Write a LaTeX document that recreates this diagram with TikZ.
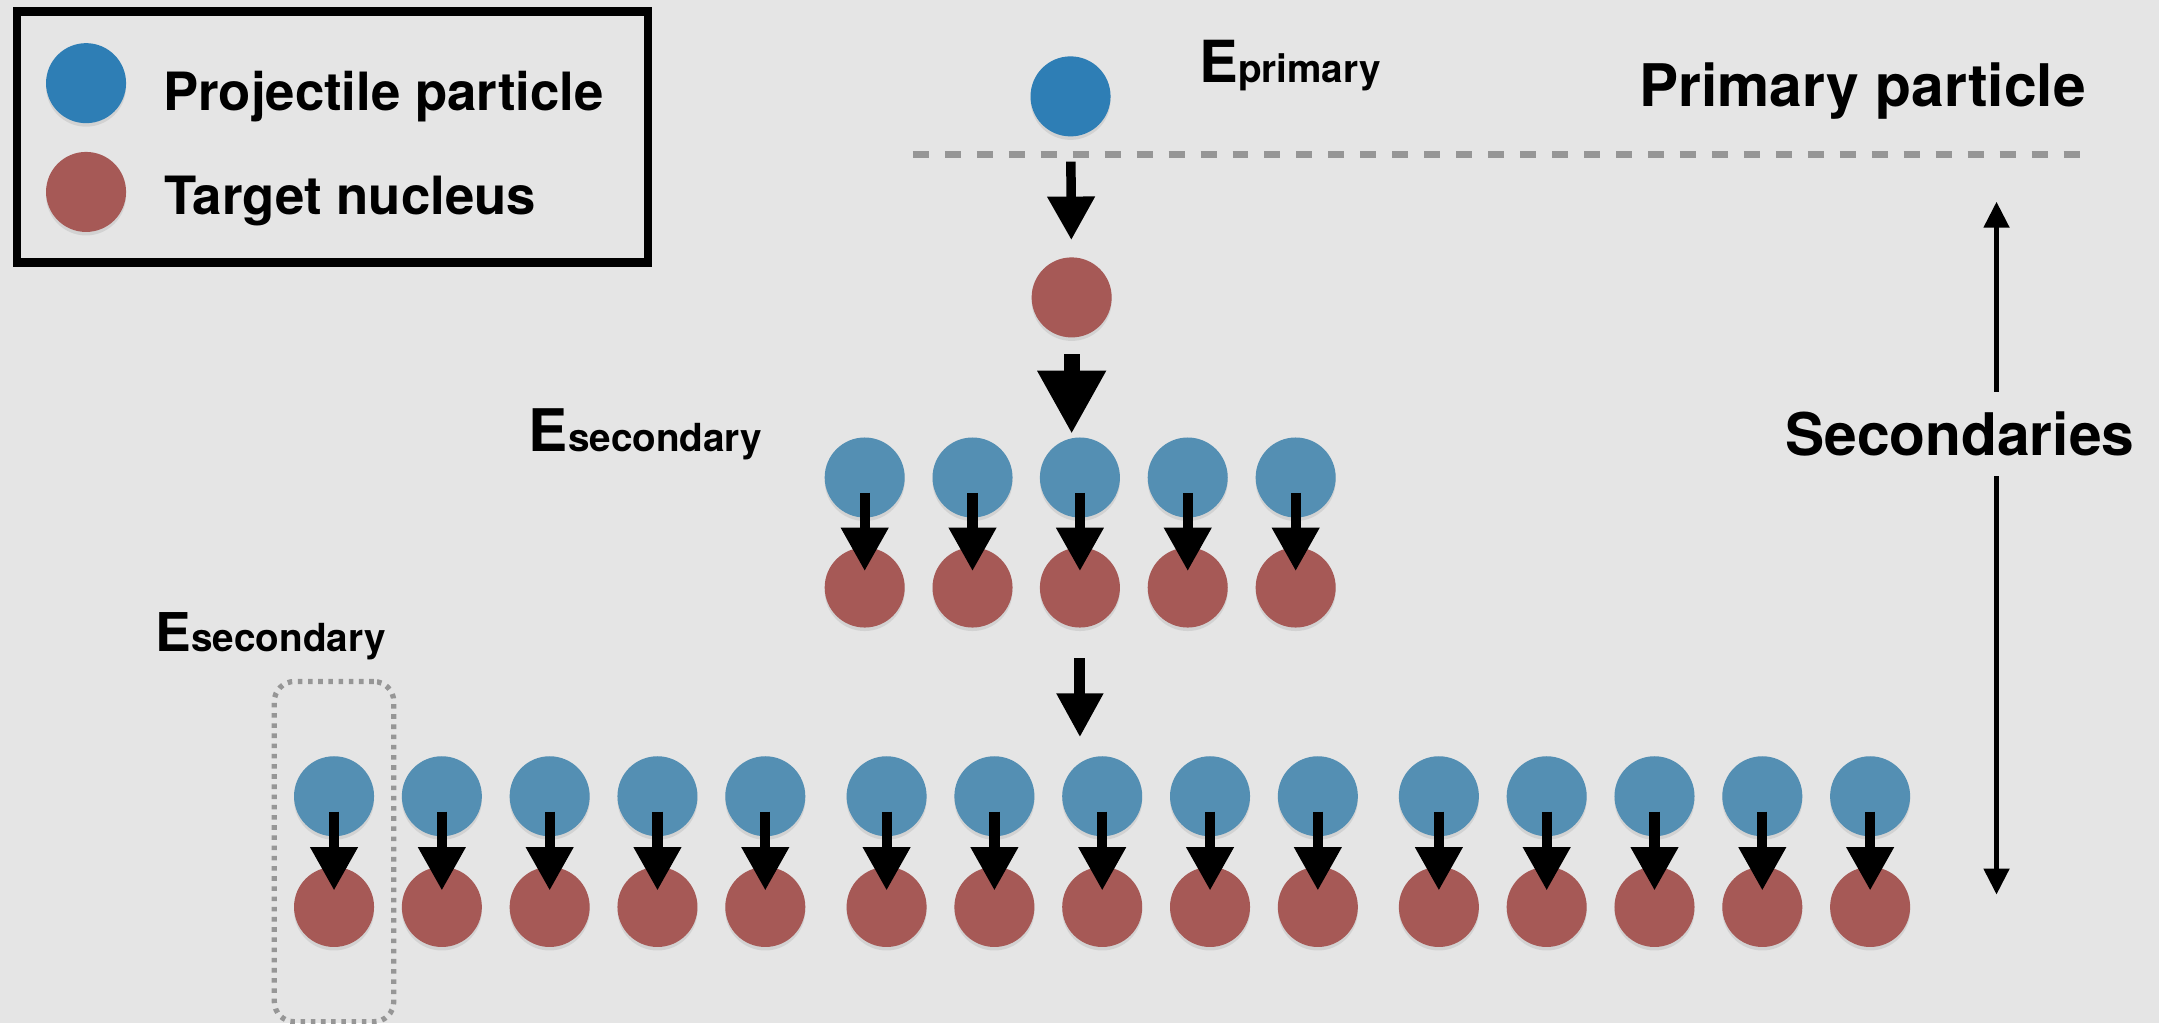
\documentclass[tikz,border=0pt]{standalone}
\usepackage{fontspec}
\setmainfont{TeX Gyre Heros}
\usetikzlibrary{arrows.meta, fit, shadows}

\definecolor{bggray}{RGB}{229,229,229}
\definecolor{projblue}{RGB}{84,143,179}
\definecolor{primblue}{RGB}{46,126,181}
\definecolor{targred}{RGB}{166,89,86}
\definecolor{guidegray}{RGB}{150,150,150}

% E with its subscript set on the same baseline
\newcommand{\Energy}[2]{{\fontsize{#1}{#1}\selectfont E}{\fontsize{11}{13}\selectfont #2}}

\begin{document}
\begin{tikzpicture}[
    x=0.01377cm, y=-0.01377cm,
    particle/.style={circle, minimum size=0.8cm, inner sep=0pt,
        drop shadow={shadow xshift=0pt, shadow yshift=-0.035cm, opacity=0.18}},
    proj/.style={particle, fill=projblue},
    targ/.style={particle, fill=targred},
    legendtxt/.style={anchor=base west, inner sep=0pt, font=\fontsize{15}{18}\selectfont\bfseries},
    heading/.style={anchor=base west, inner sep=0pt, font=\fontsize{16.7}{20}\selectfont\bfseries},
    energy/.style={anchor=base west, inner sep=0pt, font=\bfseries},
    hit/.style={line width=2.9pt, -{Triangle[width=0.45cm, length=0.434cm]},
        shorten <=0.154cm, shorten >=0.164cm},
    span/.style={line width=1.4pt, -{Triangle[width=0.25cm, length=0.26cm]}}
]

% Background
\fill[bggray] (0,0) rectangle (1568,743);
\useasboundingbox (0,0) rectangle (1568,743);

% Legend
\draw[line width=2.35pt] (12.3,8.4) rectangle (470.6,190.6);
\node[proj, fill=primblue] (keyproj) at (62.5,60.4) {};
\node[targ] (keytarg) at (62.5,139.4) {};
\node[legendtxt] (keyprojtxt) at (118,80) {Projectile particle};
\node[legendtxt] (keytargtxt) at (119,156) {Target nucleus};

% Primary particle
\node[proj, fill=primblue] (prim) at (777.5,70) {};
\node[energy] (eprim) at (870.6,60) {\Energy{16.5}{primary}};
\node[heading] (primtxt) at (1190,77.5) {Primary particle};
\draw[guidegray, line width=2.1pt, dash pattern=on 4.545pt off 4.545pt] (663,112.3) -- (1513,112.3);

% First interaction
\node[targ] (tgt) at (778.3,216) {};
\draw[line width=2.7pt, -{Triangle[width=0.454cm, length=0.434cm]},
    shorten <=0.653cm, shorten >=0.574cm] (prim.center) -- (tgt.center);

% Secondaries, first generation
\node[energy] (esec) at (383.6,328) {\Energy{16.7}{secondary}};
\foreach \x [count=\i] in {628,706.3,784.3,862.6,941} {
    \node[proj] (mp\i) at (\x,346.8) {};
    \node[targ] (mt\i) at (\x,426.7) {};
    \draw[hit] (mp\i.center) -- (mt\i.center);
}
\draw[line width=4.5pt, -{Triangle[width=0.643cm, length=0.633cm]},
    shorten <=0.569cm, shorten >=0.435cm] (tgt.center) -- (tgt.center |- mp3.center);

% Secondaries, second generation
\node[energy] (esec2) at (112.6,473.4) {\Energy{15.2}{secondary}};
\foreach \x [count=\i] in {242.6,320.9,399.2,477.5,555.8,
                           643.9,722.2,800.5,878.8,957.1,
                           1045,1123.3,1201.6,1279.9,1358.2} {
    \node[proj] (bp\i) at (\x,578.3) {};
    \node[targ] (bt\i) at (\x,658.7) {};
    \draw[hit] (bp\i.center) -- (bt\i.center);
}
\draw[line width=3.1pt, -{Triangle[width=0.44cm, length=0.44cm]},
    shorten <=0.706cm, shorten >=0.589cm] (mt3.center) -- (mt3.center |- bp8.center);

% One pair singled out
\node[fit=(bp1)(bt1), inner xsep=0.19cm, inner ysep=0.74cm, draw=guidegray,
    line width=1.5pt, dash pattern=on 1.3pt off 1.6pt, rounded corners=0.2cm] (pair) {};

% Depth of the shower
\node[heading, inner ysep=5.5pt] (sec) at (1296,331) {Secondaries};
\coordinate (sectop) at (1450,146.5);
\coordinate (secbot) at (1450,649.7);
\draw[span] (sec.north -| sectop) -- (sectop);
\draw[span] (sec.south -| secbot) -- (secbot);

\end{tikzpicture}
\end{document}
